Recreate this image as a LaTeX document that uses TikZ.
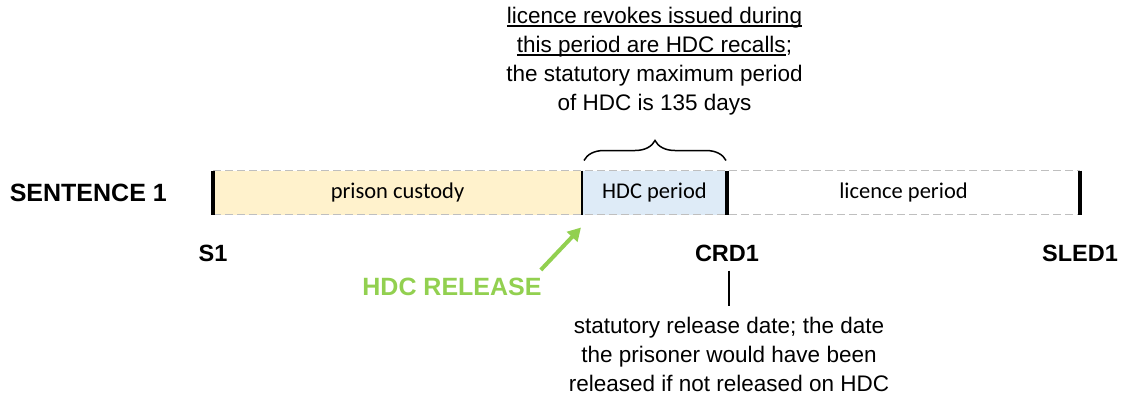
\documentclass[tikz,border=0pt]{standalone}
\usepackage{fontspec}
\setmainfont{Liberation Sans}
\newfontfamily\calibrifont{Carlito}
\usetikzlibrary{arrows.meta,positioning,decorations.pathreplacing}
\definecolor{custodyfill}{HTML}{FFF2CC}
\definecolor{hdcfill}{HTML}{DEEBF7}
\definecolor{rimgray}{HTML}{BFBFBF}
\definecolor{releasegreen}{HTML}{92D050}
\newsavebox{\linebox}
\newcommand{\lineunder}[1]{\sbox{\linebox}{#1}\rlap{\rule[-3pt]{\wd\linebox}{1.2pt}}\usebox{\linebox}}

\begin{document}
\begin{tikzpicture}[x=1pt,y=-1pt,node distance=30pt,
    period/.style={minimum height=44pt,inner sep=0pt,outer sep=0pt,
                   font=\calibrifont\fontsize{22.5}{27}\selectfont},
    datelabel/.style={inner sep=0pt,font=\bfseries\fontsize{23.5}{28}\selectfont},
    biglabel/.style={inner sep=0pt,font=\bfseries\fontsize{25}{30}\selectfont},
    note/.style={align=center,inner sep=0pt,font=\fontsize{22.5}{29}\selectfont},
    tick/.style={line width=3.5pt},
    rim/.style={rimgray,line width=1.5pt,dash pattern=on 8pt off 4pt},
    releasearrow/.style={-{Triangle[length=13pt,width=14pt]},releasegreen,line width=4pt}]
  \useasboundingbox (0,0) rectangle (1123,394);

  % the sentence bar
  \node[period,fill=custodyfill,minimum width=369pt] (custody) at (397.5,192.5) {prison custody};
  \node[period,fill=hdcfill,minimum width=145pt,right=0pt of custody] (hdc) {HDC period};
  \node[period,minimum width=353pt,right=0pt of hdc] (licence) {licence period};
  \draw[rim] (custody.north west) -- (licence.north east);
  \draw[rim] (custody.south west) -- (licence.south east);
  \draw[tick] (custody.north west) -- (custody.south west);
  \draw[line width=1.5pt] (hdc.north west) -- (hdc.south west);
  \draw[tick] (licence.north west) -- (licence.south west);
  \draw[tick] (licence.north east) -- (licence.south east);

  \node[biglabel,left=46pt of custody] (sentence) {SENTENCE 1};
  \node[datelabel,below=of custody.south west] (s1) {S1};
  \node[datelabel,below=of licence.south west] (crd) {CRD1};
  \node[datelabel,below=of licence.south east] (sled) {SLED1};

  % HDC release
  \node[biglabel,text=releasegreen] (release) at (452,287) {HDC RELEASE};
  \draw[releasearrow] ([xshift=-1pt,yshift=8pt]release.north east)
    -- ([xshift=-1pt,yshift=-13pt]hdc.south west);

  % brace and notes
  \draw[decorate,decoration={brace,amplitude=20pt},line width=1.5pt]
    ([xshift=2pt,yshift=10pt]hdc.north west) -- ([xshift=-1pt,yshift=10pt]hdc.north east);
  \node[note,above=55pt of hdc] (recallnote)
    {\lineunder{licence revokes issued during}\\
     \lineunder{this period are HDC recalls};\\
     the statutory maximum period\\
     of HDC is 135 days};
  \node[note,below=55pt of crd,xshift=2pt] (crdnote)
    {statutory release date; the date\\
     the prisoner would have been\\
     released if not released on HDC};
  \draw[line width=1.2pt,shorten <=9pt,shorten >=11pt]
    (crdnote.north |- crd.south) -- (crdnote.north);
\end{tikzpicture}
\end{document}
